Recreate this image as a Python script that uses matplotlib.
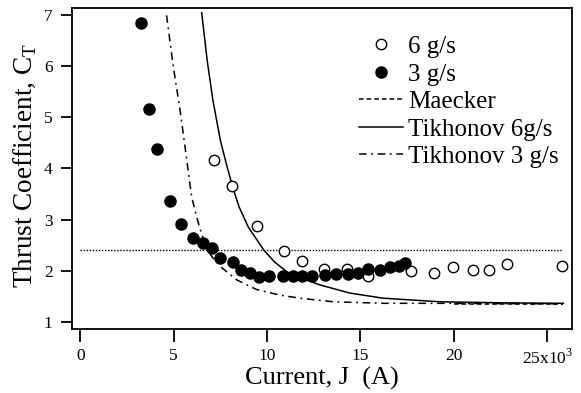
import matplotlib
matplotlib.use("Agg")
import matplotlib.pyplot as plt

plt.rcParams['font.family'] = ['Liberation Serif', 'DejaVu Serif']
plt.rcParams['mathtext.fontset'] = 'custom'
plt.rcParams['mathtext.rm'] = 'Liberation Serif'

# current in kA (axis shows x10^3 A)
flow6_x = [7.17, 8.14, 9.44, 10.90, 11.88, 13.06, 14.26, 15.42, 17.69, 18.93,
           19.97, 21.04, 21.90, 22.83, 25.77]
flow6_y = [4.17, 3.66, 2.87, 2.39, 2.18, 2.04, 2.04, 1.89, 2.00, 1.96,
           2.08, 2.01, 2.01, 2.13, 2.09]

flow3_x = [3.25, 3.66, 4.12, 4.80, 5.39, 6.02, 6.55, 7.05, 7.50, 8.19, 8.60,
           9.08, 9.55, 10.08, 10.84, 11.37, 11.87, 12.42, 13.10, 13.69, 14.35,
           14.88, 15.42, 16.04, 16.58, 17.06, 17.38]
flow3_y = [6.84, 5.17, 4.39, 3.36, 2.91, 2.63, 2.54, 2.45, 2.25, 2.16, 2.01,
           1.96, 1.88, 1.90, 1.90, 1.90, 1.90, 1.90, 1.91, 1.93, 1.93,
           1.96, 2.04, 2.02, 2.07, 2.10, 2.15]

maecker_x = [20.0, 25.86]
maecker_y = [1.34, 1.34]

tik6_x = [6.50, 6.80, 7.10, 7.50, 7.85, 8.14, 8.50, 9.00, 9.83, 10.40, 11.05,
          11.76, 12.83, 14.44, 16.22, 19.26, 22.50, 25.86]
tik6_y = [7.05, 6.10, 5.34, 4.55, 4.05, 3.66, 3.25, 2.85, 2.40, 2.17, 1.98,
          1.86, 1.72, 1.56, 1.46, 1.39, 1.37, 1.36]

tik3_x = [4.62, 4.98, 5.34, 5.60, 5.96, 6.20, 6.41, 6.77, 7.10, 7.57, 8.37,
          9.44, 10.69, 11.76, 13.54, 16.22, 19.26, 25.86]
tik3_y = [7.00, 6.00, 5.15, 4.45, 3.45, 3.10, 2.82, 2.42, 2.25, 2.06, 1.82,
          1.63, 1.52, 1.46, 1.39, 1.36, 1.36, 1.35]

ref_level = 2.40
ref_x = [0.0, 25.8]

xticks = [0, 5, 10, 15, 20, 25]
xtick_labels = ['0', '5', '10', '15', '20', '25x10$^\\mathregular{3}$']
yticks = [1, 2, 3, 4, 5, 6, 7]

fig = plt.figure(figsize=(5.81, 3.93), dpi=100)
ax = fig.add_axes([72 / 581, 1 - 329 / 393, 500 / 581, 321 / 393])

ax.plot(ref_x, [ref_level, ref_level], color='black', linestyle=(0, (1, 1.2)),
        linewidth=1.0)
ax.plot(flow6_x, flow6_y, 'o', markerfacecolor='white', markeredgecolor='black',
        markeredgewidth=1.0, markersize=7.5, label='6 g/s', zorder=3)
ax.plot(flow3_x, flow3_y, 'o', color='black', markersize=8, label='3 g/s', zorder=4)
ax.plot(maecker_x, maecker_y, color='black', linestyle=(0, (3, 2)), linewidth=1.1,
        label='Maecker')
ax.plot(tik6_x, tik6_y, color='black', linestyle='-', linewidth=1.1,
        label='Tikhonov 6g/s')
ax.plot(tik3_x, tik3_y, color='black', linestyle=(0, (5, 3, 1.2, 3)), linewidth=1.1,
        label='Tikhonov 3 g/s')

ax.set_xlim(-0.44, 26.32)
ax.set_ylim(0.857, 7.143)
ax.set_xticks(xticks)
ax.set_xticklabels(xtick_labels)
ax.set_yticks(yticks)
ax.tick_params(direction='out', length=8, width=1.3, labelsize=12.5, pad=6)
ax.tick_params(axis='x', length=9, pad=5)
for s in ax.spines.values():
    s.set_linewidth(1.3)

ax.set_xlabel('Current, J  (A)', fontsize=19)
ax.xaxis.set_label_coords(0.5, -0.118)
ax.set_ylabel('Thrust Coefficient, C$_\\mathregular{T}$', fontsize=19.5)
ax.yaxis.set_label_coords(-0.068, 0.508)

leg = ax.legend(loc='upper left', bbox_to_anchor=(0.554, 0.945), frameon=False,
                fontsize=18, handlelength=1.76, handletextpad=0.2,
                labelspacing=0.2, borderaxespad=0)

fig.savefig('out.png', dpi=100)
